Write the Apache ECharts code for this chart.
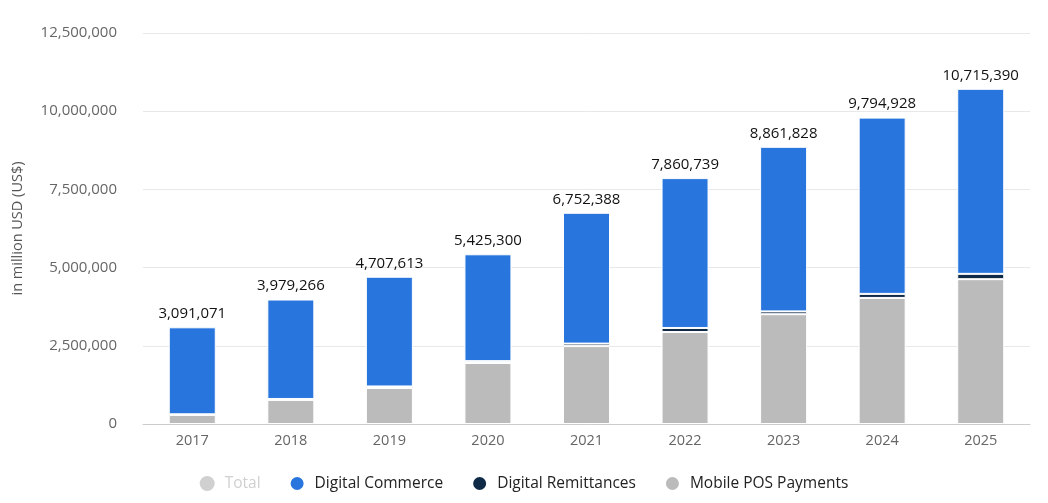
<!DOCTYPE html>
<html>
<head>
<meta charset="utf-8">
<script src="https://cdn.jsdelivr.net/npm/echarts@6/dist/echarts.min.js"></script>
<style>
  html, body { margin: 0; padding: 0; background: #fff; }
  #chart { width: 1048px; height: 503px; }
</style>
</head>
<body>
<div id="chart"></div>
<script>
// data (million USD)
const years = ["2017", "2018", "2019", "2020", "2021", "2022", "2023", "2024", "2025"];
const totals = [3091071, 3979266, 4707613, 5425300, 6752388, 7860739, 8861828, 9794928, 10715390];
const mobilePos = [290000, 770000, 1150000, 1950000, 2490000, 2940000, 3510000, 4030000, 4630000];
const remittances = [20000, 30000, 50000, 60000, 80000, 130000, 90000, 130000, 170000];
const digitalCommerce = [2781071, 3179266, 3507613, 3415300, 4182388, 4790739, 5261828, 5634928, 5915390];

const fmt = v => v.toLocaleString("en-US");

let chart = echarts.init(document.getElementById("chart"));
chart.setOption({
    animation: false,
    textStyle: { fontFamily: "Open Sans" },
    grid: { left: 143, right: 18, top: 33, bottom: 79 },
    legend: {
        bottom: 6,
        left: "center",
        icon: "circle",
        itemWidth: 15,
        itemHeight: 15,
        itemGap: 28,
        textStyle: { color: "#222", fontSize: 15.5, padding: [0, 0, 0, 5] },
        inactiveColor: "#d0d0d0",
        data: ["Total", "Digital Commerce", "Digital Remittances", "Mobile POS Payments"],
        selected: { "Total": false }
    },
    xAxis: {
        type: "category",
        data: years,
        axisLine: { lineStyle: { color: "#ccc" } },
        axisTick: { alignWithLabel: true, lineStyle: { color: "#ccc" } },
        axisLabel: { color: "#666", fontSize: 14.5, margin: 9 }
    },
    yAxis: {
        type: "value",
        min: 0,
        max: 12500000,
        interval: 2500000,
        name: "in million USD (US$)",
        nameLocation: "middle",
        nameGap: 118,
        nameTextStyle: { color: "#555", fontSize: 14.5 },
        axisLabel: { color: "#666", fontSize: 15, margin: 26, formatter: fmt },
        splitLine: { lineStyle: { color: "#e8e8e8" } }
    },
    series: [
        {
            name: "Total",
            type: "bar",
            stack: "t",
            data: [],
            itemStyle: { color: "#d0d0d0" }
        },
        {
            name: "Mobile POS Payments",
            type: "bar",
            stack: "s",
            barWidth: 47,
            data: mobilePos,
            itemStyle: { color: "#bbbbbb", borderColor: "#fff", borderWidth: 1 }
        },
        {
            name: "Digital Remittances",
            type: "bar",
            stack: "s",
            data: remittances,
            itemStyle: { color: "#0f2a47", borderColor: "#fff", borderWidth: 1 }
        },
        {
            name: "Digital Commerce",
            type: "bar",
            stack: "s",
            data: digitalCommerce,
            itemStyle: { color: "#2876dd", borderColor: "#fff", borderWidth: 1 },
            label: {
                show: true,
                position: "top",
                distance: 6,
                color: "#111",
                fontSize: 15,
                formatter: p => fmt(totals[p.dataIndex])
            }
        }
    ]
});
</script>
</body>
</html>
